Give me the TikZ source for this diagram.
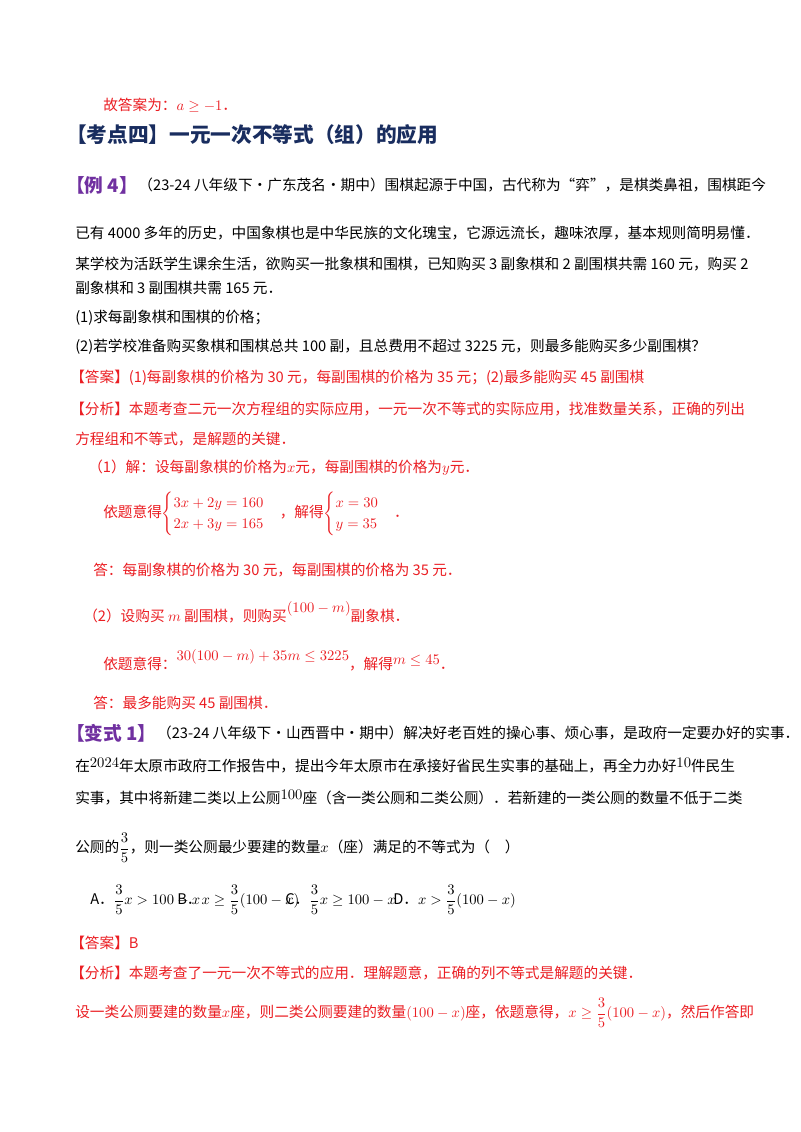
\documentclass[tikz,border=0pt]{standalone}
\usepackage{amsmath}
\usepackage{fontspec}
\setmainfont{Noto Sans CJK SC}
\definecolor{ansred}{RGB}{235,30,35}
\definecolor{navy}{RGB}{25,45,95}
\definecolor{purp}{RGB}{112,48,160}
\tikzset{
  line/.style={anchor=west,inner sep=0pt,font=\fontsize{11}{13}\selectfont},
  redline/.style={line,text=ansred}
}
\begin{document}
\begin{tikzpicture}[x=0.75pt,y=-0.75pt]
\useasboundingbox[fill=white] (0,0) rectangle (800,1132);
\node[redline] (t0) at (103,105) {故答案为：$a\ge-1$．};
\node[line,text=navy,font=\fontsize{15.5}{18}\bfseries] (t1) at (66,135) {【考点四】一元一次不等式（组）的应用};
\node[line,text=purp,font=\fontsize{14}{16}\bfseries] (t2) at (66,185) {【例 4】};
\node[line,anchor=west] (t2b) at (t2.east) {（23-24 八年级下·广东茂名·期中）围棋起源于中国，古代称为“弈”，是棋类鼻祖，围棋距今};
\node[line] (t3) at (75,233) {已有 4000 多年的历史，中国象棋也是中华民族的文化瑰宝，它源远流长，趣味浓厚，基本规则简明易懂．};
\node[line] (t4) at (75,264) {某学校为活跃学生课余生活，欲购买一批象棋和围棋，已知购买 3 副象棋和 2 副围棋共需 160 元，购买 2};
\node[line] (t5) at (75,288) {副象棋和 3 副围棋共需 165 元．};
\node[line] (t6) at (75,318) {(1)求每副象棋和围棋的价格；};
\node[line] (t7) at (75,347) {(2)若学校准备购买象棋和围棋总共 100 副，且总费用不超过 3225 元，则最多能购买多少副围棋？};
\node[redline] (t8) at (70,378) {【答案】(1)每副象棋的价格为 30 元，每副围棋的价格为 35 元；(2)最多能购买 45 副围棋};
\node[redline] (t9) at (70,409) {【分析】本题考查二元一次方程组的实际应用，一元一次不等式的实际应用，找准数量关系，正确的列出};
\node[redline] (t10) at (75,439) {方程组和不等式，是解题的关键．};
\node[redline] (t11) at (88,468) {（1）解：设每副象棋的价格为$x$元，每副围棋的价格为$y$元．};
\node[redline] (t12) at (103,514) {依题意得$\begin{cases}3x+2y=160\\2x+3y=165\end{cases}$，解得$\begin{cases}x=30\\y=35\end{cases}$．};
\node[redline] (t13) at (93,570) {答：每副象棋的价格为 30 元，每副围棋的价格为 35 元．};
\node[redline] (t14) at (83,612) {（2）设购买 $m$ 副围棋，则购买\raisebox{1.1ex}{$(100-m)$}副象棋．};
\node[redline] (t15) at (103,660) {依题意得：\raisebox{1.1ex}{$30(100-m)+35m\le3225$}，解得\raisebox{0.6ex}{$m\le45$}．};
\node[redline] (t16) at (93,703) {答：最多能购买 45 副围棋．};
\node[line,text=purp,font=\fontsize{14}{16}\bfseries] (t17) at (66,733) {【变式 1】};
\node[line,anchor=west] (t17b) at (t17.east) {（23-24 八年级下·山西晋中·期中）解决好老百姓的操心事、烦心事，是政府一定要办好的实事．};
\node[line] (t18) at (75,766) {在\raisebox{0.5ex}{$2024$}年太原市政府工作报告中，提出今年太原市在承接好省民生实事的基础上，再全力办好\raisebox{0.5ex}{$10$}件民生};
\node[line] (t19) at (75,798) {实事，其中将新建二类以上公厕\raisebox{0.5ex}{$100$}座（含一类公厕和二类公厕）．若新建的一类公厕的数量不低于二类};
\node[line] (t20) at (75,848) {公厕的$\dfrac35$，则一类公厕最少要建的数量$x$（座）满足的不等式为（　）};
\node[line] (oA) at (90,900) {A．$\dfrac35x>100-x$};
\node[line] (oB) at (177,900) {B．$x\ge\dfrac35(100-x)$};
\node[line] (oC) at (285,900) {C．$\dfrac35x\ge100-x$};
\node[line] (oD) at (393,900) {D．$x>\dfrac35(100-x)$};
\node[redline] (t21) at (70,943) {【答案】B};
\node[redline] (t22) at (70,973) {【分析】本题考查了一元一次不等式的应用．理解题意，正确的列不等式是解题的关键．};
\node[redline] (t23) at (75,1013) {设一类公厕要建的数量$x$座，则二类公厕要建的数量$(100-x)$座，依题意得，$x\ge\dfrac35(100-x)$，然后作答即};
\end{tikzpicture}
\end{document}
